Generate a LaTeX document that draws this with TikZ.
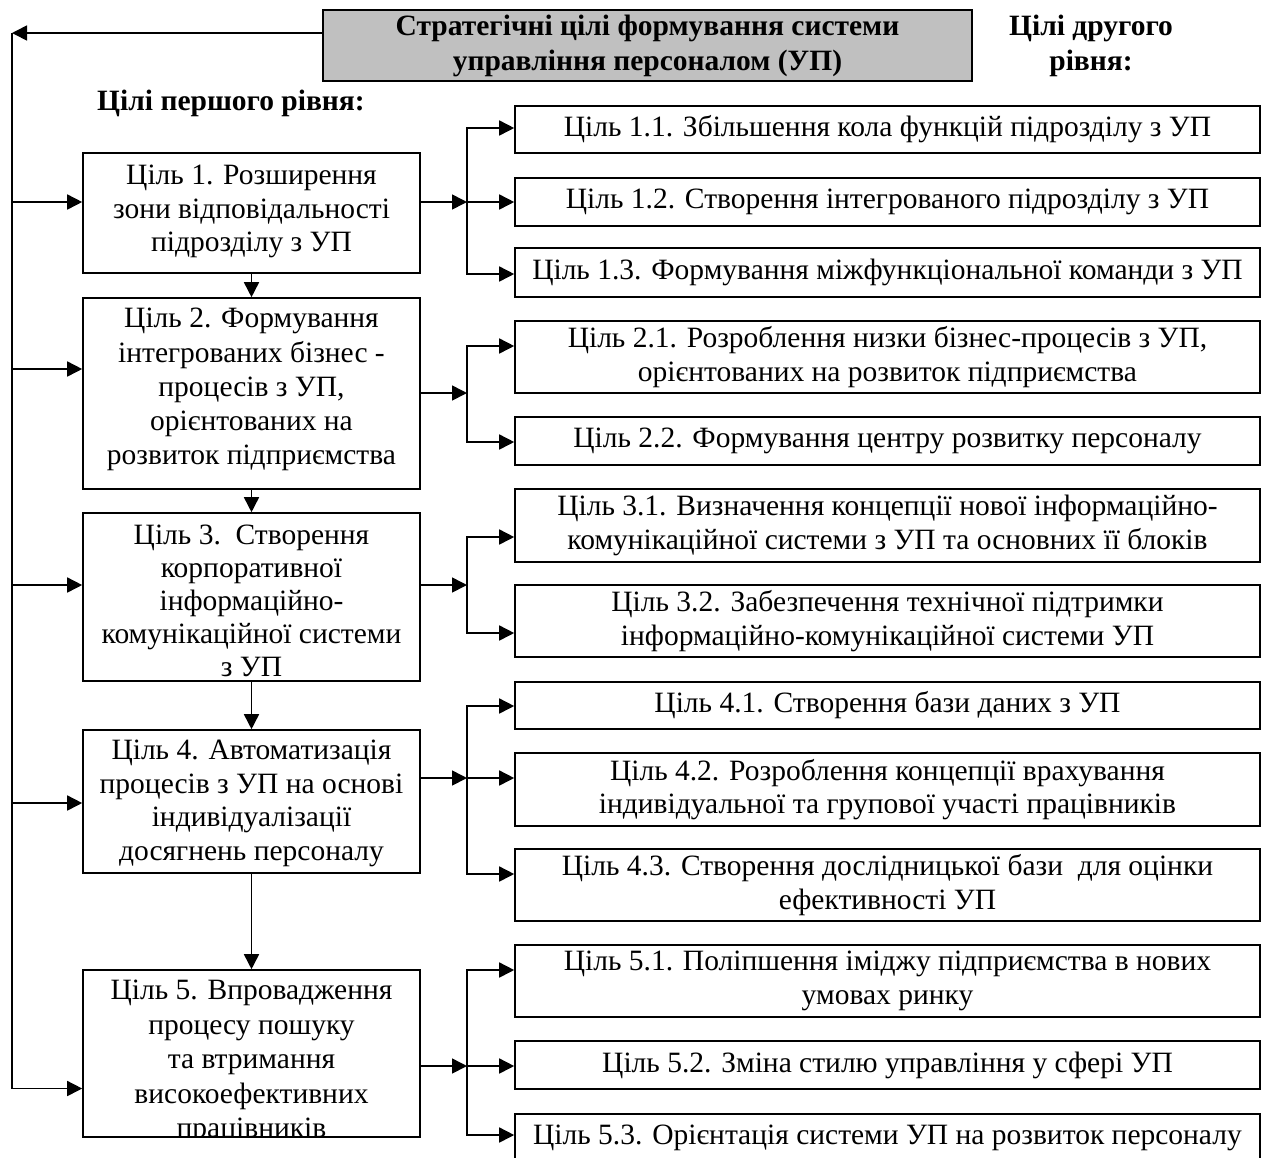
\documentclass[tikz,border=0pt]{standalone}
\usepackage{fontspec}
\setmainfont{Liberation Serif}
\usetikzlibrary{arrows.meta,calc}
\newcommand{\bodyfont}{\fontsize{29.5}{33.5}\selectfont}
\newcommand{\headfont}{\fontsize{29.5}{35}\selectfont\bfseries}
\tikzset{
  frame/.style={draw=black, line width=1.6pt},
  lbox/.style={frame, minimum width=337pt, inner sep=0pt},
  rbox/.style={frame, minimum width=745pt, inner sep=0pt, align=center, font=\bodyfont},
  ltext/.style={inner sep=0pt, align=center, font=\bodyfont, anchor=north},
  conn/.style={line width=1.6pt},
  arr/.style={conn, -{Triangle[length=15pt,width=15pt]}},
}
\begin{document}
\begin{tikzpicture}[x=1pt,y=-1pt]
\useasboundingbox (0,0) rectangle (1265,1157);

% header
\node[frame, fill={rgb,255:red,192;green,192;blue,192}, minimum width=649pt, minimum height=71pt,
      inner sep=0pt, align=center, font=\headfont] (hdr) at (647.5,45.5)
      {Стратегічні цілі формування системи\\управління персоналом (УП)};
\node[font=\headfont, inner sep=0pt] (lvl1) at (231,103) {Цілі першого рівня:};
\node[font=\headfont, inner sep=0pt, align=center] (lvl2) at (1091,46) {Цілі другого\\рівня:};

% left boxes
\node[lbox, minimum height=120pt] (g1) at (251.5,213) {};
\node[lbox, minimum height=191pt] (g2) at (251.5,393.5) {};
\node[lbox, minimum height=168pt] (g3) at (251.5,597) {};
\node[lbox, minimum height=143pt] (g4) at (251.5,801.5) {};
\node[lbox, minimum height=167pt] (g5) at (251.5,1053.5) {};

\node[ltext] (g1t) at ([yshift=-13pt]g1.north) {Ціль 1. Розширення\\зони відповідальності\\підрозділу з УП};
\node[ltext, font=\fontsize{29.5}{34.2}\selectfont] (g2t) at ([yshift=-11pt]g2.north) {Ціль 2. Формування\\інтегрованих бізнес -\\процесів з УП,\\орієнтованих на\\розвиток підприємства};
\node[ltext, font=\fontsize{29.5}{33}\selectfont] (g3t) at ([yshift=-13pt]g3.north) {Ціль 3.\ \ Створення\\корпоративної\\інформаційно-\\комунікаційної системи\\з УП};
\node[ltext] (g4t) at ([yshift=-11pt]g4.north) {Ціль 4. Автоматизація\\процесів з УП на основі\\індивідуалізації\\досягнень персоналу};
\begin{scope}
\clip (g5.north west) rectangle (g5.south east);
\node[ltext, font=\fontsize{29.5}{34.5}\selectfont] (g5t) at ([yshift=-11pt]g5.north) {Ціль 5. Впровадження\\процесу пошуку\\та втримання\\високоефективних\\працівників};
\end{scope}

% right boxes
\node[rbox, minimum height=47pt] (r11) at (887.5,129.5) {Ціль 1.1. Збільшення кола функцій підрозділу з УП};
\node[rbox, minimum height=48pt] (r12) at (887.5,202) {Ціль 1.2. Створення інтегрованого підрозділу з УП};
\node[rbox, minimum height=49pt] (r13) at (887.5,272.5) {Ціль 1.3. Формування міжфункціональної команди з УП};
\node[rbox, minimum height=72pt] (r21) at (887.5,357) {Ціль 2.1. Розроблення низки бізнес-процесів з УП,\\орієнтованих на розвиток підприємства};
\node[rbox, minimum height=48pt] (r22) at (887.5,441) {Ціль 2.2. Формування центру розвитку персоналу};
\node[rbox, minimum height=73pt] (r31) at (887.5,525.5) {Ціль 3.1. Визначення концепції нової інформаційно-\\комунікаційної системи з УП та основних її блоків};
\node[rbox, minimum height=72pt] (r32) at (887.5,621) {Ціль 3.2. Забезпечення технічної підтримки\\інформаційно-комунікаційної системи УП};
\node[rbox, minimum height=47pt] (r41) at (887.5,705.5) {Ціль 4.1. Створення бази даних з УП};
\node[rbox, minimum height=73pt] (r42) at (887.5,789.5) {Ціль 4.2. Розроблення концепції врахування\\індивідуальної та групової участі працівників};
\node[rbox, minimum height=72pt] (r43) at (887.5,885) {Ціль 4.3. Створення дослідницької бази\ \ для оцінки\\ефективності УП};
\node[rbox, minimum height=72pt] (r51) at (887.5,981) {Ціль 5.1. Поліпшення іміджу підприємства в нових\\умовах ринку};
\node[rbox, minimum height=48pt] (r52) at (887.5,1065) {Ціль 5.2. Зміна стилю управління у сфері УП};
\node[rbox, minimum height=48pt] (r53) at (887.5,1138) {Ціль 5.3. Орієнтація системи УП на розвиток персоналу};

% left trunk
\coordinate (L0) at (12,33);
\draw[arr] (hdr.west |- L0) -- (L0);
\draw[arr] (L0) |- ([yshift=-35pt]g5.west);
\draw[arr] (L0 |- 0,202) -- (g1.west |- 0,202);
\draw[arr] (L0 |- 0,369) -- (g2.west |- 0,369);
\draw[arr] (L0 |- 0,585) -- (g3.west |- 0,585);
\draw[arr] (L0 |- 0,803) -- (g4.west |- 0,803);

% down arrows
\draw[arr] (g1.south) -- (g2.north);
\draw[arr] (g2.south) -- (g3.north);
\draw[arr] (g3.south) -- (g4.north);
\draw[arr] (g4.south) -- (g5.north);

% branches
\coordinate (b1) at (467,202);
\coordinate (b2) at (467,393);
\coordinate (b3) at (467,585);
\coordinate (b4) at (467,778);
\coordinate (b5) at (467,1066);

\draw[arr] (g1.east |- b1) -- (b1);
\draw[arr] (b1) |- (r11.west |- 0,128);
\draw[arr] (b1) -- (r12.west |- b1);
\draw[arr] (b1) |- (r13.west |- 0,274);

\draw[arr] (g2.east |- b2) -- (b2);
\draw[arr] (b2) |- (r21.west |- 0,346);
\draw[arr] (b2) |- (r22.west |- 0,442);

\draw[arr] (g3.east |- b3) -- (b3);
\draw[arr] (b3) |- (r31.west |- 0,537);
\draw[arr] (b3) |- (r32.west |- 0,633);

\draw[arr] (g4.east |- b4) -- (b4);
\draw[arr] (b4) |- (r41.west |- 0,706);
\draw[arr] (b4) -- (r42.west |- b4);
\draw[arr] (b4) |- (r43.west |- 0,874);

\draw[arr] (g5.east |- b5) -- (b5);
\draw[arr] (b5) |- (r51.west |- 0,970);
\draw[arr] (b5) -- (r52.west |- b5);
\draw[arr] (b5) |- (r53.west |- 0,1135);
\end{tikzpicture}
\end{document}
